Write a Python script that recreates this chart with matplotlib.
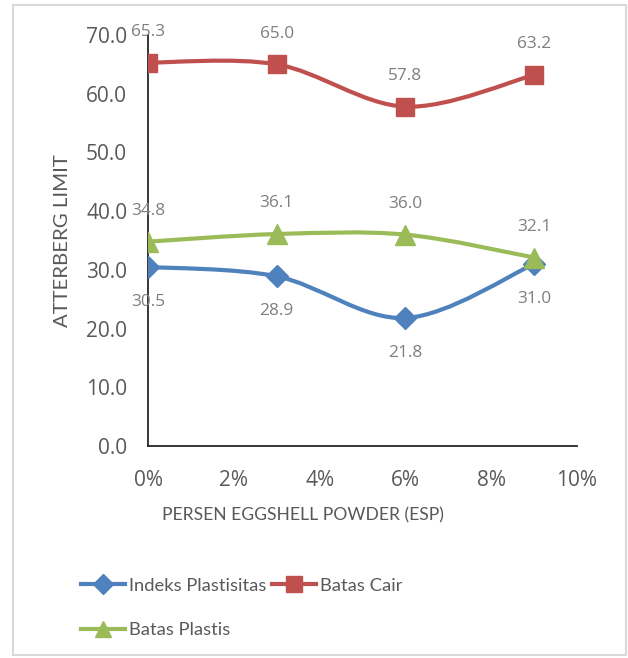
import matplotlib.pyplot as plt
from matplotlib.path import Path
from matplotlib.patches import PathPatch, Rectangle
from matplotlib.lines import Line2D

plt.rcParams['font.family'] = ['Lato', 'DejaVu Sans']

# eggshell powder content (%)
esp = [0, 3, 6, 9]
indeks_plastisitas = [30.5, 28.9, 21.8, 31.0]
batas_cair = [65.3, 65.0, 57.8, 63.2]
batas_plastis = [34.8, 36.1, 36.0, 32.1]

x_ticks = [0, 2, 4, 6, 8, 10]
y_ticks = [0, 10, 20, 30, 40, 50, 60, 70]

BLUE = '#4F81BD'
RED = '#C0504D'
GREEN = '#9BBB59'
TEXT = '#595959'
LABEL = '#7F7F7F'
NUM_FONT = ['Open Sans', 'DejaVu Sans']


def smooth_path(xs, ys):
    """Catmull-Rom style bezier through the points, like a spreadsheet smoothed line."""
    pts = list(zip(xs, ys))
    verts = [pts[0]]
    codes = [Path.MOVETO]
    n = len(pts)
    for i in range(n - 1):
        p0 = pts[i - 1] if i > 0 else pts[i]
        p1 = pts[i]
        p2 = pts[i + 1]
        p3 = pts[i + 2] if i + 2 < n else pts[i + 1]
        c1 = (p1[0] + (p2[0] - p0[0]) / 6, p1[1] + (p2[1] - p0[1]) / 6)
        c2 = (p2[0] - (p3[0] - p1[0]) / 6, p2[1] - (p3[1] - p1[1]) / 6)
        verts += [c1, c2, p2]
        codes += [Path.CURVE4] * 3
    return Path(verts, codes)


fig = plt.figure(figsize=(6.28, 6.58), dpi=100)
ax = fig.add_axes([0.2357, 0.3222, 0.6831, 0.6246])

series = [
    (indeks_plastisitas, BLUE, 'D', 11.5, 'Indeks Plastisitas', -25),
    (batas_cair, RED, 's', 13, 'Batas Cair', 22),
    (batas_plastis, GREEN, '^', 14, 'Batas Plastis', 22),
]

handles = {}
for vals, color, marker, ms, name, offset in series:
    ax.add_patch(PathPatch(smooth_path(esp, vals), facecolor='none',
                           edgecolor=color, lw=3, capstyle='round', zorder=3))
    ax.plot(esp, vals, linestyle='none', marker=marker, ms=ms, color=color, zorder=4)
    for x, v in zip(esp, vals):
        ax.annotate(f'{v:.1f}', (x, v), xytext=(0, offset), textcoords='offset points',
                    ha='center', va='center', fontsize=12.4, color=LABEL,
                    family=NUM_FONT, zorder=5)
    handles[name] = Line2D([], [], color=color, lw=3, marker=marker, ms=ms * 0.85)

ax.set_xlim(0, 10)
ax.set_ylim(0, 70)
ax.set_xticks(x_ticks)
ax.set_xticklabels([f'{t}%' for t in x_ticks])
ax.set_yticks(y_ticks)
ax.set_yticklabels([f'{t:.1f}' for t in y_ticks])
ax.tick_params(length=0, labelsize=15, colors=TEXT, pad=15)
ax.tick_params(axis='x', pad=17)
for lbl in ax.get_xticklabels() + ax.get_yticklabels():
    lbl.set_family(NUM_FONT)
for s in ['top', 'right']:
    ax.spines[s].set_visible(False)
for s in ['left', 'bottom']:
    ax.spines[s].set_color('#262626')
    ax.spines[s].set_linewidth(1.3)

fig.text(0.100, 0.635, 'ATTERBERG LIMIT', rotation=90, ha='center', va='center',
         fontsize=14.7, color=TEXT)
fig.text(0.483, 0.217, 'PERSEN EGGSHELL POWDER (ESP)', ha='center', va='center',
         fontsize=12.6, color=TEXT)

order = ['Indeks Plastisitas', 'Batas Plastis', 'Batas Cair']
leg = fig.legend([handles[k] for k in order], order, ncol=2, loc='upper left',
                 bbox_to_anchor=(0.118, 0.133), frameon=False, fontsize=13.2,
                 handlelength=2.4, handletextpad=0.2, columnspacing=0.3,
                 labelspacing=1.55, borderaxespad=0)
for t in leg.get_texts():
    t.set_color(TEXT)

fig.patches.append(Rectangle((0.0207, 0.004), 0.976, 0.988, transform=fig.transFigure,
                             facecolor='none', edgecolor='#D9D9D9', lw=1.5))

fig.savefig('out.png', dpi=100)
